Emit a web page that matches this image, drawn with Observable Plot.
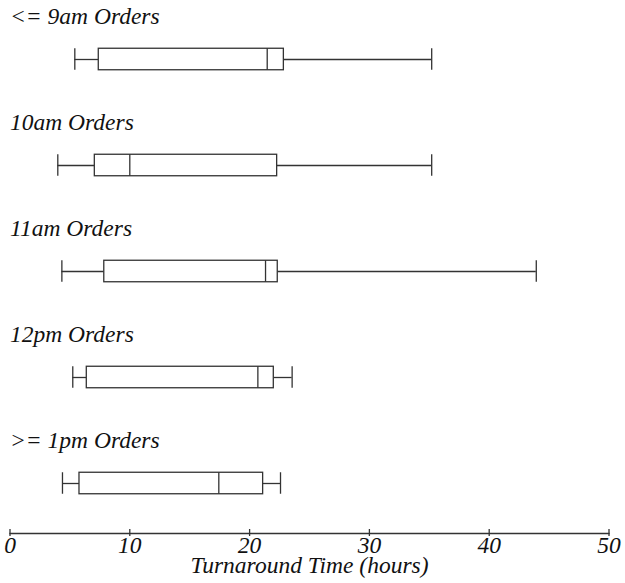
<!DOCTYPE html>
<html>
<head>
<meta charset="utf-8">
<script src="https://cdn.jsdelivr.net/npm/d3@7"></script>
<script src="https://cdn.jsdelivr.net/npm/@observablehq/plot@0.6"></script>
<style>
  html, body { margin: 0; padding: 0; background: #fff; }
  svg { display: block; }
  svg text { font-family: "Liberation Serif", "Times New Roman", serif !important; font-style: italic; }
</style>
</head>
<body>
<div id="chart"></div>
<script>
const categories = ["<= 9am Orders", "10am Orders", "11am Orders", "12pm Orders", ">= 1pm Orders"];
const whiskerLow  = [5.41, 3.99, 4.33, 5.24, 4.38];
const q1          = [7.41, 7.08, 7.87, 6.41, 5.80];
const median      = [21.47, 10.0, 21.33, 20.69, 17.43];
const q3          = [22.86, 22.3, 22.35, 22.02, 21.13];
const whiskerHigh = [35.2, 35.2, 43.93, 23.55, 22.58];
const xTicks = [0, 10, 20, 30, 40, 50];

const rows = categories.map((c, i) => ({
  cat: c, lo: whiskerLow[i], q1: q1[i], med: median[i], q3: q3[i], hi: whiskerHigh[i]
}));

const stroke = "#333";
const sw = 1.3;
const inset = 42.25;
const fs = 23.5;
const ff = "Liberation Serif";

const chart = Plot.plot({
  width: 625,
  height: 583,
  marginLeft: 9.5,
  marginRight: 16.5,
  marginTop: 4,
  marginBottom: 50,
  style: { fontFamily: ff, fontStyle: "italic", fontSize: fs + "px", color: "#111", background: "#fff" },
  x: { domain: [0, 50] },
  y: { type: "band", domain: categories, range: [4.25, 536.75], padding: 0, axis: null },
  marks: [
    Plot.ruleY(rows, { y: "cat", x1: "lo", x2: "q1", stroke, strokeWidth: sw }),
    Plot.ruleY(rows, { y: "cat", x1: "q3", x2: "hi", stroke, strokeWidth: sw }),
    Plot.tickX(rows, { x: "lo", y: "cat", stroke, strokeWidth: sw, insetTop: inset, insetBottom: inset }),
    Plot.tickX(rows, { x: "hi", y: "cat", stroke, strokeWidth: sw, insetTop: inset, insetBottom: inset }),
    Plot.rect(rows, { x1: "q1", x2: "q3", y: "cat", fill: "white", stroke, strokeWidth: sw, insetTop: inset, insetBottom: inset }),
    Plot.tickX(rows, { x: "med", y: "cat", stroke, strokeWidth: sw, insetTop: inset, insetBottom: inset }),
    Plot.text(rows, { x: () => 0, y: "cat", text: "cat", textAnchor: "start", dy: -43, fontSize: fs, fontFamily: ff, fontStyle: "italic", fill: "#111" }),
    Plot.frame({ anchor: "bottom", stroke, strokeWidth: sw }),
    Plot.axisX({ ticks: xTicks, tickSize: 3, tickPadding: 0, tickFormat: d => String(d), fontSize: fs, fontFamily: ff, fontStyle: "italic", label: null, stroke, strokeWidth: sw, fill: "#111" }),
    Plot.axisX({ ticks: xTicks, tickSize: -4, text: null, label: null, stroke, strokeWidth: sw }),
    Plot.text(["Turnaround Time (hours)"], { frameAnchor: "bottom", x: () => 25, text: d => d, dy: 39, fontSize: fs, fontFamily: ff, fontStyle: "italic", fill: "#111" })
  ]
});
document.getElementById("chart").appendChild(chart);
</script>
</body>
</html>
